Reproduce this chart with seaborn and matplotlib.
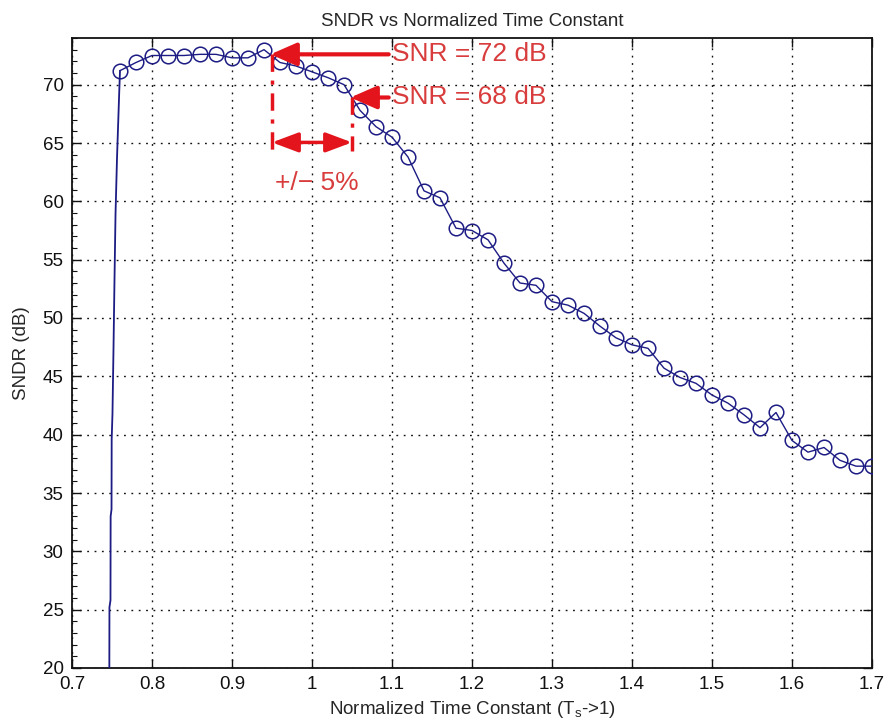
import matplotlib
matplotlib.use("Agg")
import matplotlib.pyplot as plt
import numpy as np
import pandas as pd
import seaborn as sns
from matplotlib.ticker import MultipleLocator

# ---- data -------------------------------------------------------------
# steep rise (dense samples, no markers)
rise_x = [0.7466, 0.7468, 0.7481, 0.7483, 0.7494, 0.7496, 0.7506, 0.7519, 0.7531, 0.7544, 0.7563, 0.7591, 0.76]
rise_y = [17.2, 25.2, 25.8, 33.0, 33.6, 39.6, 41.8, 47.5, 53.2, 58.9, 63.8, 69.5, 71.2]

# marked samples
tau = [0.76, 0.78, 0.80, 0.82, 0.84, 0.86, 0.88, 0.90, 0.92, 0.94,
       0.96, 0.98, 1.00, 1.02, 1.04, 1.06, 1.08, 1.10, 1.12, 1.14,
       1.16, 1.18, 1.20, 1.22, 1.24, 1.26, 1.28, 1.30, 1.32, 1.34,
       1.36, 1.38, 1.40, 1.42, 1.44, 1.46, 1.48, 1.50, 1.52, 1.54,
       1.56, 1.58, 1.60, 1.62, 1.64, 1.66, 1.68, 1.70]
sndr = [71.2, 71.9, 72.5, 72.5, 72.5, 72.6, 72.6, 72.3, 72.3, 73.0,
        71.9, 71.6, 71.1, 70.6, 70.0, 67.8, 66.4, 65.5, 63.8, 60.9,
        60.3, 57.7, 57.5, 56.7, 54.7, 53.0, 52.8, 51.4, 51.1, 50.4,
        49.3, 48.3, 47.7, 47.4, 45.7, 44.9, 44.4, 43.4, 42.7, 41.7,
        40.6, 41.9, 39.5, 38.5, 38.9, 37.8, 37.3, 37.3]

x_ticks = [0.7, 0.8, 0.9, 1.0, 1.1, 1.2, 1.3, 1.4, 1.5, 1.6, 1.7]
x_tick_labels = ["0.7", "0.8", "0.9", "1", "1.1", "1.2", "1.3", "1.4", "1.5", "1.6", "1.7"]
y_ticks = [20, 25, 30, 35, 40, 45, 50, 55, 60, 65, 70]

# annotation anchors (data coords)
snr72 = ("SNR = 72 dB", 0.948, 72.6)
snr68 = ("SNR = 68 dB", 1.048, 68.9)
text_x = 1.10
span_lo, span_hi, span_y = 0.95, 1.05, 65.05
pct_label = ("+/\u2212 5%", 1.006, 61.6)

# ---- style ------------------------------------------------------------
sns.set_style("white")
plt.rcParams["font.family"] = ["Liberation Sans", "DejaVu Sans"]
plt.rcParams["mathtext.fontset"] = "custom"
plt.rcParams["mathtext.rm"] = "Liberation Sans"
plt.rcParams["mathtext.it"] = "Liberation Sans"

W, H = 887, 726
fig = plt.figure(figsize=(W / 100, H / 100), dpi=100)
ax = fig.add_axes([72 / W, 1 - 668 / H, 800 / W, 630 / H])

navy = "#1c1c84"
red = "#e3141c"
tred = "#d83c3c"

rise_df = pd.DataFrame({"x": rise_x, "y": rise_y})
main_df = pd.DataFrame({"x": tau, "y": sndr})

sns.lineplot(data=rise_df, x="x", y="y", ax=ax, color=navy, lw=1.3,
             sort=False, estimator=None, zorder=3)
sns.lineplot(data=main_df, x="x", y="y", ax=ax, color=navy, lw=1.0,
             marker="o", markersize=10.5, markerfacecolor="none",
             markeredgecolor=navy, markeredgewidth=1.1,
             estimator=None, zorder=3)

ax.set_xlim(0.7, 1.7)
ax.set_ylim(20, 74)
ax.set_xticks(x_ticks)
ax.set_xticklabels(x_tick_labels)
ax.set_yticks(y_ticks)
ax.yaxis.set_minor_locator(MultipleLocator(1))

ax.grid(True, which="major", color="#111111", linestyle=(0, (1.3, 4)), linewidth=1.0)
ax.tick_params(which="major", direction="in", length=6.5, width=1,
               left=True, bottom=True, top=True, right=True,
               labelsize=13.5, pad=6, colors="#111111")
ax.tick_params(axis="y", which="minor", direction="in", length=3.5, width=0.8,
               left=True, right=False, colors="#111111")
ax.tick_params(axis="x", which="minor", bottom=False, top=False)
for s in ax.spines.values():
    s.set_color("#111111")
    s.set_linewidth(1.3)

ax.set_title("SNDR vs Normalized Time Constant", fontsize=13.5, pad=9)
ax.set_ylabel("SNDR (dB)", fontsize=13.5)
ax.yaxis.set_label_coords(-0.0525, 0.5)
ax.set_xlabel(r"Normalized Time Constant (T$_\mathregular{s}$->1)", fontsize=13.5)
ax.xaxis.set_label_coords(0.5, -0.05)

# ---- annotations ------------------------------------------------------
head = "-|>,head_length=1.6,head_width=0.7"
for lbl, tx, ty in (snr72, snr68):
    ax.annotate(lbl, xy=(tx, ty), xytext=(text_x, ty), ha="left", va="center",
                color=tred, fontsize=19, zorder=5,
                arrowprops=dict(arrowstyle=head, color=red, lw=3,
                                shrinkA=0, shrinkB=0, mutation_scale=10))

dash = (0, (5, 2.5, 1.2, 2.5))
ax.plot([span_lo, span_lo], [snr72[2], span_y - 0.7], color=red, lw=2.5,
        linestyle=dash, zorder=4)
ax.plot([span_hi, span_hi], [snr68[2], span_y - 0.7], color=red, lw=2.5,
        linestyle=dash, zorder=4)
ax.annotate("", xy=(span_lo, span_y), xytext=(span_hi, span_y), zorder=5,
            arrowprops=dict(arrowstyle="<|-|>,head_length=1.6,head_width=0.6",
                            color=red, lw=2.5, shrinkA=0, shrinkB=0,
                            mutation_scale=10))
ax.text(pct_label[1], pct_label[2], pct_label[0], ha="center", va="center",
        color=tred, fontsize=19, zorder=5)

fig.savefig("out.png", dpi=100, facecolor="white")
